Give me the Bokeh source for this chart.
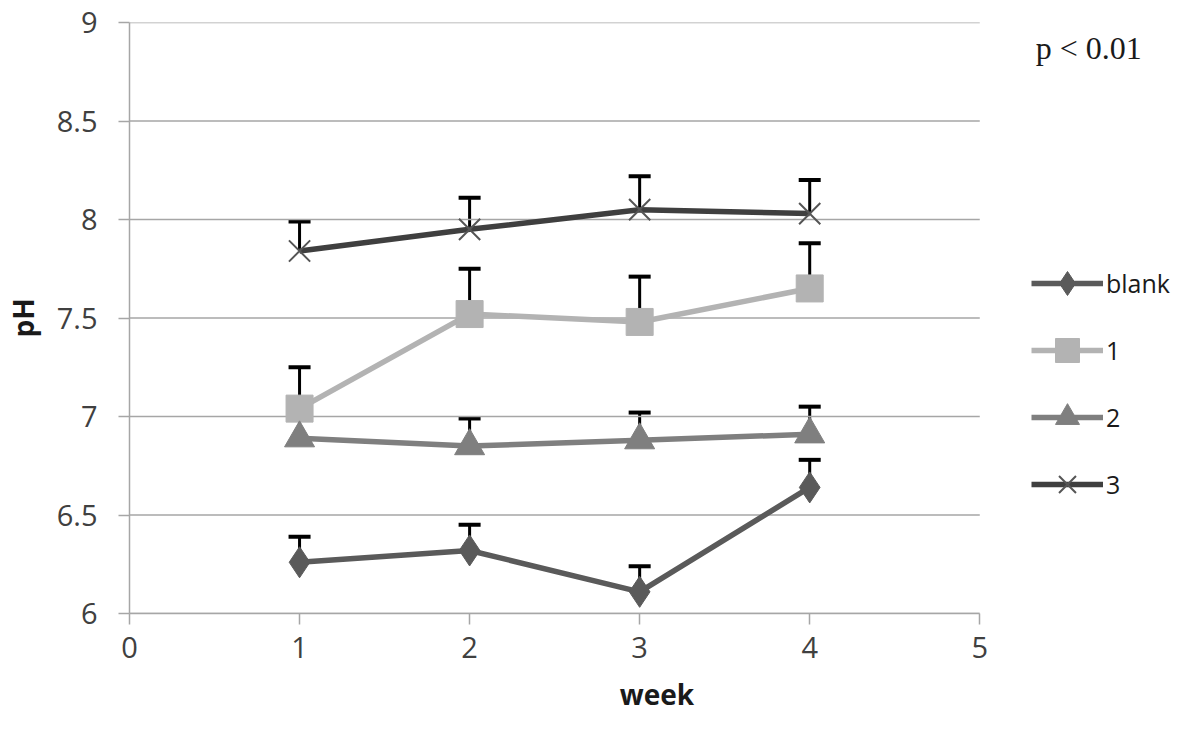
from bokeh.plotting import figure
from bokeh.models import Whisker, ColumnDataSource, Legend, LegendItem, Label, TeeHead, FixedTicker
from bokeh.embed import file_html
from bokeh.resources import INLINE

weeks = [1, 2, 3, 4]
series_names = ["blank", "1", "2", "3"]
blank_ph = [6.26, 6.32, 6.11, 6.64]
blank_err = [0.13, 0.13, 0.13, 0.14]
s1_ph = [7.04, 7.52, 7.48, 7.65]
s1_err = [0.21, 0.23, 0.23, 0.23]
s2_ph = [6.89, 6.85, 6.88, 6.91]
s2_err = [0.10, 0.14, 0.14, 0.14]
s3_ph = [7.84, 7.95, 8.05, 8.03]
s3_err = [0.15, 0.16, 0.17, 0.17]
x_ticks = [0, 1, 2, 3, 4, 5]
y_ticks = [6, 6.5, 7, 7.5, 8, 8.5, 9]
x_min, x_max = 0, 5

p = figure(width=1184, height=717, output_backend="svg", toolbar_location=None,
           x_range=(0, 6.204), y_range=(6, 9),
           min_border_left=128, min_border_right=0, min_border_top=22, min_border_bottom=104)
p.outline_line_color = None
p.background_fill_color = "white"
p.xgrid.grid_line_color = None
p.ygrid.grid_line_color = None
# horizontal gridlines limited to the 0..5 axis span
p.segment(x0=[x_min] * len(y_ticks), x1=[x_max] * len(y_ticks), y0=y_ticks, y1=y_ticks,
          line_color="#a6a6a6", line_width=1.5)

p.xaxis.ticker = FixedTicker(ticks=x_ticks)
p.yaxis.ticker = FixedTicker(ticks=y_ticks)
p.xaxis.bounds = (x_min, x_max)
p.yaxis.major_label_overrides = {6: "6", 6.5: "6.5", 7: "7", 7.5: "7.5", 8: "8", 8.5: "8.5", 9: "9"}
for ax in (p.xaxis, p.yaxis):
    ax.axis_line_color = "#a6a6a6"
    ax.axis_line_width = 1.5
    ax.major_tick_line_color = "#a6a6a6"
    ax.major_tick_line_width = 1.5
    ax.major_tick_out = 11
    ax.major_tick_in = 0
    ax.minor_tick_line_color = None
    ax.major_label_text_font = "Open Sans"
    ax.major_label_text_font_size = "29px"
    ax.major_label_text_color = "#404040"
    ax.axis_label_text_font = "Open Sans"
    ax.axis_label_text_font_style = "bold"
    ax.axis_label_text_font_size = "28px"
    ax.axis_label_text_color = "#1a1a1a"
p.yaxis.major_label_standoff = 21
p.xaxis.major_label_standoff = 12
p.xaxis.axis_label = "week"
p.yaxis.axis_label = "pH"
p.xaxis.axis_label_standoff = 14
p.yaxis.axis_label_standoff = 12

styles = [
    (blank_ph, blank_err, "#5a5a5a", "diamond", 31, "#5a5a5a"),
    (s1_ph, s1_err, "#b3b3b3", "square", 27, "#b3b3b3"),
    (s2_ph, s2_err, "#7f7f7f", "triangle", 30, "#7f7f7f"),
    (s3_ph, s3_err, "#3f3f3f", "x", 30, "#555555"),
]

items = []
for name, (vals, errs, col, mk, sz, mcol) in zip(series_names, styles):
    src = ColumnDataSource(dict(x=weeks, y=vals, up=[v + e for v, e in zip(vals, errs)]))
    w = Whisker(source=src, base="x", lower="y", upper="up", dimension="height",
                line_color="black", line_width=3,
                upper_head=TeeHead(size=22, line_color="black", line_width=4), lower_head=None)
    p.add_layout(w)
    r1 = p.line("x", "y", source=src, line_color=col, line_width=5.5)
    if mk == "x":
        r2 = p.scatter("x", "y", source=src, marker=mk, size=sz, line_color=mcol, line_width=2)
    else:
        r2 = p.scatter("x", "y", source=src, marker=mk, size=sz, fill_color=mcol, line_color=mcol)
    items.append(LegendItem(label=name, renderers=[r1, r2]))

legend = Legend(items=items, location=(902, 99), padding=0, margin=0,
                glyph_width=72, glyph_height=60, label_height=60, spacing=7,
                label_text_font="Open Sans", label_text_font_size="25px", label_text_color="#1a1a1a",
                label_standoff=3, background_fill_alpha=0, border_line_color=None)
p.add_layout(legend, "center")

p.add_layout(Label(x=5.329, y=8.873, text="p < 0.01", text_font="Liberation Serif",
                   text_font_size="32px", text_baseline="middle", text_color="#1a1a1a"))

open("out.html", "w").write(file_html(p, INLINE))
